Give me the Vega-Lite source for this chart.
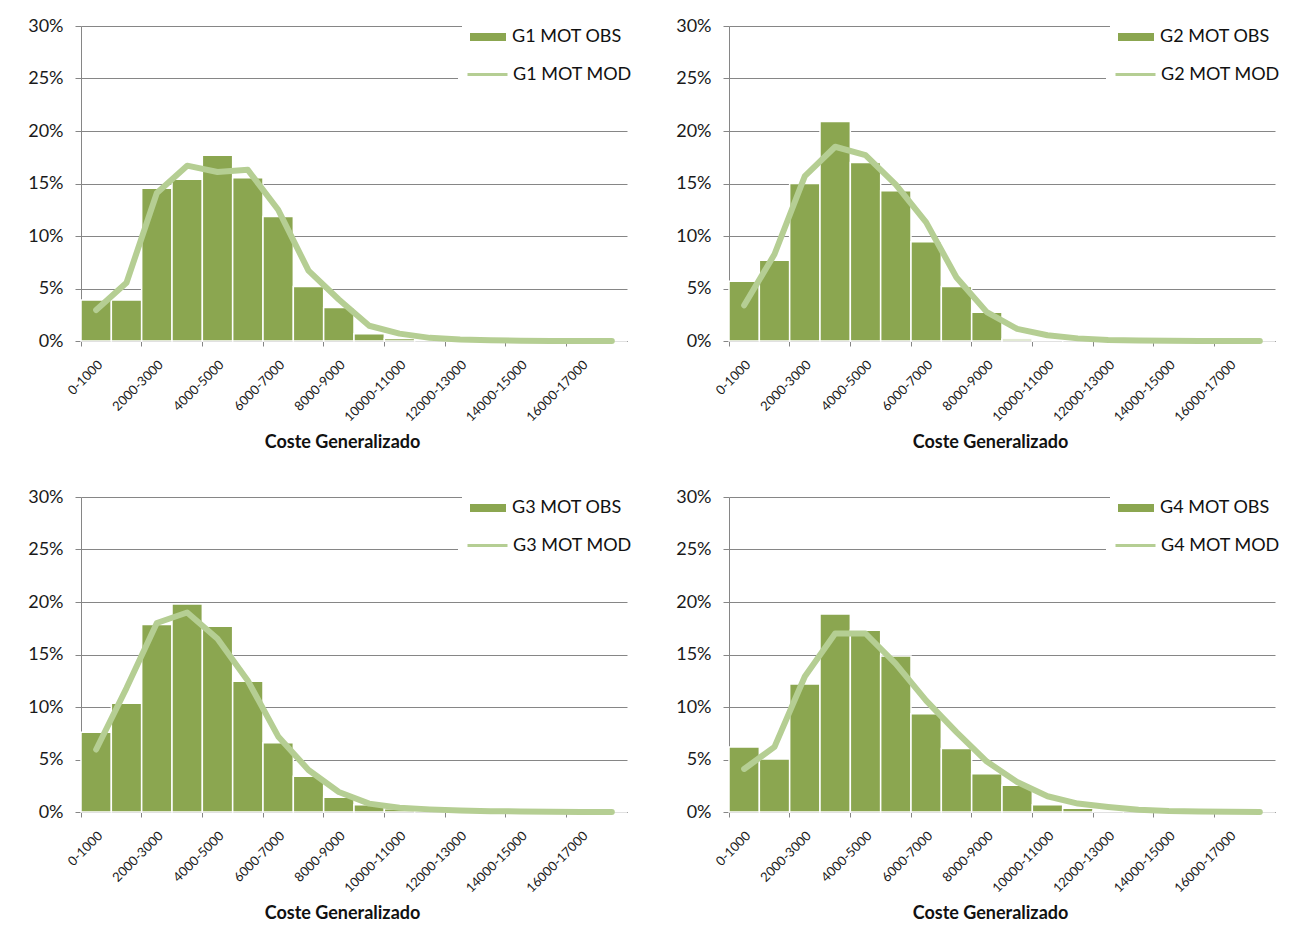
{
  "$schema": "https://vega.github.io/schema/vega-lite/v6.json",
  "padding": {"left": 27, "top": 11, "right": 5, "bottom": 5},
  "bounds": "flush",
  "background": "white",
  "config": {
    "font": "Lato",
    "view": {"stroke": null},
    "axis": {"labelFont": "Lato", "titleFont": "Lato", "labelColor": "#1a1a1a", "titleColor": "#111111"},
    "legend": {"labelFont": "Lato", "labelColor": "#111111"}
  },
  "datasets": {
    "d": [
      {"g":"G1","cat":"0-1000","obs":3.9,"mod":2.95},
      {"g":"G1","cat":"1000-2000","obs":3.9,"mod":5.55},
      {"g":"G1","cat":"2000-3000","obs":14.55,"mod":14.1},
      {"g":"G1","cat":"3000-4000","obs":15.4,"mod":16.7},
      {"g":"G1","cat":"4000-5000","obs":17.7,"mod":16.1},
      {"g":"G1","cat":"5000-6000","obs":15.55,"mod":16.3},
      {"g":"G1","cat":"6000-7000","obs":11.85,"mod":12.5},
      {"g":"G1","cat":"7000-8000","obs":5.2,"mod":6.7},
      {"g":"G1","cat":"8000-9000","obs":3.2,"mod":3.95},
      {"g":"G1","cat":"9000-10000","obs":0.7,"mod":1.45},
      {"g":"G1","cat":"10000-11000","obs":0.25,"mod":0.7},
      {"g":"G1","cat":"11000-12000","obs":0.1,"mod":0.3},
      {"g":"G1","cat":"12000-13000","obs":0,"mod":0.15},
      {"g":"G1","cat":"13000-14000","obs":0,"mod":0.07},
      {"g":"G1","cat":"14000-15000","obs":0,"mod":0.03},
      {"g":"G1","cat":"15000-16000","obs":0,"mod":0.01},
      {"g":"G1","cat":"16000-17000","obs":0,"mod":0},
      {"g":"G1","cat":"17000-18000","obs":0,"mod":0},
      {"g":"G2","cat":"0-1000","obs":5.7,"mod":3.4},
      {"g":"G2","cat":"1000-2000","obs":7.7,"mod":8.26},
      {"g":"G2","cat":"2000-3000","obs":15.0,"mod":15.7},
      {"g":"G2","cat":"3000-4000","obs":20.9,"mod":18.5},
      {"g":"G2","cat":"4000-5000","obs":17.0,"mod":17.7},
      {"g":"G2","cat":"5000-6000","obs":14.3,"mod":14.9},
      {"g":"G2","cat":"6000-7000","obs":9.45,"mod":11.3},
      {"g":"G2","cat":"7000-8000","obs":5.2,"mod":6.05},
      {"g":"G2","cat":"8000-9000","obs":2.75,"mod":2.75},
      {"g":"G2","cat":"9000-10000","obs":0.2,"mod":1.15},
      {"g":"G2","cat":"10000-11000","obs":0.12,"mod":0.55},
      {"g":"G2","cat":"11000-12000","obs":0.05,"mod":0.25},
      {"g":"G2","cat":"12000-13000","obs":0,"mod":0.1},
      {"g":"G2","cat":"13000-14000","obs":0,"mod":0.05},
      {"g":"G2","cat":"14000-15000","obs":0,"mod":0.02},
      {"g":"G2","cat":"15000-16000","obs":0,"mod":0},
      {"g":"G2","cat":"16000-17000","obs":0,"mod":0},
      {"g":"G2","cat":"17000-18000","obs":0,"mod":0},
      {"g":"G3","cat":"0-1000","obs":7.6,"mod":5.95},
      {"g":"G3","cat":"1000-2000","obs":10.35,"mod":11.8},
      {"g":"G3","cat":"2000-3000","obs":17.85,"mod":18.0},
      {"g":"G3","cat":"3000-4000","obs":19.8,"mod":19.0},
      {"g":"G3","cat":"4000-5000","obs":17.7,"mod":16.5},
      {"g":"G3","cat":"5000-6000","obs":12.45,"mod":12.5},
      {"g":"G3","cat":"6000-7000","obs":6.6,"mod":7.2},
      {"g":"G3","cat":"7000-8000","obs":3.4,"mod":4.0},
      {"g":"G3","cat":"8000-9000","obs":1.4,"mod":1.9},
      {"g":"G3","cat":"9000-10000","obs":0.7,"mod":0.8},
      {"g":"G3","cat":"10000-11000","obs":0.3,"mod":0.4},
      {"g":"G3","cat":"11000-12000","obs":0.1,"mod":0.25},
      {"g":"G3","cat":"12000-13000","obs":0.05,"mod":0.15},
      {"g":"G3","cat":"13000-14000","obs":0,"mod":0.08},
      {"g":"G3","cat":"14000-15000","obs":0,"mod":0.05},
      {"g":"G3","cat":"15000-16000","obs":0,"mod":0.02},
      {"g":"G3","cat":"16000-17000","obs":0,"mod":0.01},
      {"g":"G3","cat":"17000-18000","obs":0,"mod":0},
      {"g":"G4","cat":"0-1000","obs":6.2,"mod":4.1},
      {"g":"G4","cat":"1000-2000","obs":5.05,"mod":6.2},
      {"g":"G4","cat":"2000-3000","obs":12.2,"mod":12.9},
      {"g":"G4","cat":"3000-4000","obs":18.85,"mod":17.0},
      {"g":"G4","cat":"4000-5000","obs":17.3,"mod":17.0},
      {"g":"G4","cat":"5000-6000","obs":14.85,"mod":14.1},
      {"g":"G4","cat":"6000-7000","obs":9.35,"mod":10.6},
      {"g":"G4","cat":"7000-8000","obs":6.05,"mod":7.6},
      {"g":"G4","cat":"8000-9000","obs":3.65,"mod":4.8},
      {"g":"G4","cat":"9000-10000","obs":2.55,"mod":2.85},
      {"g":"G4","cat":"10000-11000","obs":0.7,"mod":1.5},
      {"g":"G4","cat":"11000-12000","obs":0.35,"mod":0.8},
      {"g":"G4","cat":"12000-13000","obs":0.1,"mod":0.48},
      {"g":"G4","cat":"13000-14000","obs":0.05,"mod":0.22},
      {"g":"G4","cat":"14000-15000","obs":0,"mod":0.1},
      {"g":"G4","cat":"15000-16000","obs":0,"mod":0.05},
      {"g":"G4","cat":"16000-17000","obs":0,"mod":0.02},
      {"g":"G4","cat":"17000-18000","obs":0,"mod":0}
    ]
  },
  "data": {"name": "d"},
  "columns": 2,
  "spacing": {"row": 156, "column": 102},
  "resolve": {"scale": {"fill": "independent", "stroke": "independent", "x": "independent", "y": "independent"}, "legend": {"fill": "independent", "stroke": "independent"}},
  "concat": [
    {
      "width": 546, "height": 315,
      "transform": [{"filter": "datum.g === 'G1'"}],
      "layer": [
        {"mark": {"type": "bar", "stroke": "white", "strokeWidth": 1.5},
         "encoding": {
           "x": {"field": "cat", "type": "nominal", "title": "Coste Generalizado",
             "scale": {"domain": ["0-1000","1000-2000","2000-3000","3000-4000","4000-5000","5000-6000","6000-7000","7000-8000","8000-9000","9000-10000","10000-11000","11000-12000","12000-13000","13000-14000","14000-15000","15000-16000","16000-17000","17000-18000"], "paddingInner": 0, "paddingOuter": 0},
             "axis": {"orient": "bottom", "values": ["0-1000","2000-3000","4000-5000","6000-7000","8000-9000","10000-11000","12000-13000","14000-15000","16000-17000"], "labelAngle": -45, "ticks": false, "domainColor": "#868686", "labelFontSize": 13, "labelPadding": 17, "titleFontSize": 18, "titleFontWeight": "bold", "titlePadding": 10, "titleX": 261, "grid": false}},
           "y": {"field": "obs", "type": "quantitative", "title": null, "scale": {"domain": [0, 30], "nice": false},
             "axis": {"values": [0,5,10,15,20,25,30], "labelExpr": "datum.value + '%'", "gridColor": "#868686", "domainColor": "#868686", "tickColor": "#868686", "tickSize": 6, "labelPadding": 12, "labelFontSize": 18}},
           "fill": {"datum": "G1  MOT OBS", "type": "nominal", "scale": {"range": ["#8BA650"]},
             "legend": {"orient": "none", "legendX": 381, "legendY": -15, "title": null, "symbolType": "M-1,-0.22H1V0.22H-1Z", "symbolSize": 1296, "symbolStrokeWidth": 0, "labelFontSize": 18, "labelOffset": 6, "padding": 8, "fillColor": "white"}}
         }},
        {"mark": {"type": "line", "strokeWidth": 6, "strokeCap": "round", "strokeJoin": "round"},
         "encoding": {
           "x": {"field": "cat", "type": "nominal", "title": null,
             "axis": {"orient": "bottom", "values": ["0-1000","2000-3000","4000-5000","6000-7000","8000-9000","10000-11000","12000-13000","14000-15000","16000-17000"], "bandPosition": 0, "labels": false, "domain": false, "ticks": true, "tickSize": 5, "tickColor": "#868686", "grid": false}},
           "y": {"field": "mod", "type": "quantitative", "title": null, "scale": {"domain": [0, 30], "nice": false}},
           "stroke": {"datum": "G1  MOT MOD", "type": "nominal", "scale": {"range": ["#B5CE93"]},
             "legend": {"orient": "none", "legendX": 377, "legendY": 19, "title": null, "symbolType": "stroke", "symbolSize": 1600, "symbolStrokeWidth": 3, "labelFontSize": 18, "labelOffset": 4, "padding": 8, "fillColor": "white"}}
         }}
      ],
      "resolve": {"axis": {"x": "independent"}}
    },
    {
      "width": 546, "height": 315,
      "transform": [{"filter": "datum.g === 'G2'"}],
      "layer": [
        {"mark": {"type": "bar", "stroke": "white", "strokeWidth": 1.5},
         "encoding": {
           "x": {"field": "cat", "type": "nominal", "title": "Coste Generalizado",
             "scale": {"domain": ["0-1000","1000-2000","2000-3000","3000-4000","4000-5000","5000-6000","6000-7000","7000-8000","8000-9000","9000-10000","10000-11000","11000-12000","12000-13000","13000-14000","14000-15000","15000-16000","16000-17000","17000-18000"], "paddingInner": 0, "paddingOuter": 0},
             "axis": {"orient": "bottom", "values": ["0-1000","2000-3000","4000-5000","6000-7000","8000-9000","10000-11000","12000-13000","14000-15000","16000-17000"], "labelAngle": -45, "ticks": false, "domainColor": "#868686", "labelFontSize": 13, "labelPadding": 17, "titleFontSize": 18, "titleFontWeight": "bold", "titlePadding": 10, "titleX": 261, "grid": false}},
           "y": {"field": "obs", "type": "quantitative", "title": null, "scale": {"domain": [0, 30], "nice": false},
             "axis": {"values": [0,5,10,15,20,25,30], "labelExpr": "datum.value + '%'", "gridColor": "#868686", "domainColor": "#868686", "tickColor": "#868686", "tickSize": 6, "labelPadding": 12, "labelFontSize": 18}},
           "fill": {"datum": "G2  MOT OBS", "type": "nominal", "scale": {"range": ["#8BA650"]},
             "legend": {"orient": "none", "legendX": 381, "legendY": -15, "title": null, "symbolType": "M-1,-0.22H1V0.22H-1Z", "symbolSize": 1296, "symbolStrokeWidth": 0, "labelFontSize": 18, "labelOffset": 6, "padding": 8, "fillColor": "white"}}
         }},
        {"mark": {"type": "line", "strokeWidth": 6, "strokeCap": "round", "strokeJoin": "round"},
         "encoding": {
           "x": {"field": "cat", "type": "nominal", "title": null,
             "axis": {"orient": "bottom", "values": ["0-1000","2000-3000","4000-5000","6000-7000","8000-9000","10000-11000","12000-13000","14000-15000","16000-17000"], "bandPosition": 0, "labels": false, "domain": false, "ticks": true, "tickSize": 5, "tickColor": "#868686", "grid": false}},
           "y": {"field": "mod", "type": "quantitative", "title": null, "scale": {"domain": [0, 30], "nice": false}},
           "stroke": {"datum": "G2  MOT MOD", "type": "nominal", "scale": {"range": ["#B5CE93"]},
             "legend": {"orient": "none", "legendX": 377, "legendY": 19, "title": null, "symbolType": "stroke", "symbolSize": 1600, "symbolStrokeWidth": 3, "labelFontSize": 18, "labelOffset": 4, "padding": 8, "fillColor": "white"}}
         }}
      ],
      "resolve": {"axis": {"x": "independent"}}
    },
    {
      "width": 546, "height": 315,
      "transform": [{"filter": "datum.g === 'G3'"}],
      "layer": [
        {"mark": {"type": "bar", "stroke": "white", "strokeWidth": 1.5},
         "encoding": {
           "x": {"field": "cat", "type": "nominal", "title": "Coste Generalizado",
             "scale": {"domain": ["0-1000","1000-2000","2000-3000","3000-4000","4000-5000","5000-6000","6000-7000","7000-8000","8000-9000","9000-10000","10000-11000","11000-12000","12000-13000","13000-14000","14000-15000","15000-16000","16000-17000","17000-18000"], "paddingInner": 0, "paddingOuter": 0},
             "axis": {"orient": "bottom", "values": ["0-1000","2000-3000","4000-5000","6000-7000","8000-9000","10000-11000","12000-13000","14000-15000","16000-17000"], "labelAngle": -45, "ticks": false, "domainColor": "#868686", "labelFontSize": 13, "labelPadding": 17, "titleFontSize": 18, "titleFontWeight": "bold", "titlePadding": 10, "titleX": 261, "grid": false}},
           "y": {"field": "obs", "type": "quantitative", "title": null, "scale": {"domain": [0, 30], "nice": false},
             "axis": {"values": [0,5,10,15,20,25,30], "labelExpr": "datum.value + '%'", "gridColor": "#868686", "domainColor": "#868686", "tickColor": "#868686", "tickSize": 6, "labelPadding": 12, "labelFontSize": 18}},
           "fill": {"datum": "G3  MOT OBS", "type": "nominal", "scale": {"range": ["#8BA650"]},
             "legend": {"orient": "none", "legendX": 381, "legendY": -15, "title": null, "symbolType": "M-1,-0.22H1V0.22H-1Z", "symbolSize": 1296, "symbolStrokeWidth": 0, "labelFontSize": 18, "labelOffset": 6, "padding": 8, "fillColor": "white"}}
         }},
        {"mark": {"type": "line", "strokeWidth": 6, "strokeCap": "round", "strokeJoin": "round"},
         "encoding": {
           "x": {"field": "cat", "type": "nominal", "title": null,
             "axis": {"orient": "bottom", "values": ["0-1000","2000-3000","4000-5000","6000-7000","8000-9000","10000-11000","12000-13000","14000-15000","16000-17000"], "bandPosition": 0, "labels": false, "domain": false, "ticks": true, "tickSize": 5, "tickColor": "#868686", "grid": false}},
           "y": {"field": "mod", "type": "quantitative", "title": null, "scale": {"domain": [0, 30], "nice": false}},
           "stroke": {"datum": "G3  MOT MOD", "type": "nominal", "scale": {"range": ["#B5CE93"]},
             "legend": {"orient": "none", "legendX": 377, "legendY": 19, "title": null, "symbolType": "stroke", "symbolSize": 1600, "symbolStrokeWidth": 3, "labelFontSize": 18, "labelOffset": 4, "padding": 8, "fillColor": "white"}}
         }}
      ],
      "resolve": {"axis": {"x": "independent"}}
    },
    {
      "width": 546, "height": 315,
      "transform": [{"filter": "datum.g === 'G4'"}],
      "layer": [
        {"mark": {"type": "bar", "stroke": "white", "strokeWidth": 1.5},
         "encoding": {
           "x": {"field": "cat", "type": "nominal", "title": "Coste Generalizado",
             "scale": {"domain": ["0-1000","1000-2000","2000-3000","3000-4000","4000-5000","5000-6000","6000-7000","7000-8000","8000-9000","9000-10000","10000-11000","11000-12000","12000-13000","13000-14000","14000-15000","15000-16000","16000-17000","17000-18000"], "paddingInner": 0, "paddingOuter": 0},
             "axis": {"orient": "bottom", "values": ["0-1000","2000-3000","4000-5000","6000-7000","8000-9000","10000-11000","12000-13000","14000-15000","16000-17000"], "labelAngle": -45, "ticks": false, "domainColor": "#868686", "labelFontSize": 13, "labelPadding": 17, "titleFontSize": 18, "titleFontWeight": "bold", "titlePadding": 10, "titleX": 261, "grid": false}},
           "y": {"field": "obs", "type": "quantitative", "title": null, "scale": {"domain": [0, 30], "nice": false},
             "axis": {"values": [0,5,10,15,20,25,30], "labelExpr": "datum.value + '%'", "gridColor": "#868686", "domainColor": "#868686", "tickColor": "#868686", "tickSize": 6, "labelPadding": 12, "labelFontSize": 18}},
           "fill": {"datum": "G4  MOT OBS", "type": "nominal", "scale": {"range": ["#8BA650"]},
             "legend": {"orient": "none", "legendX": 381, "legendY": -15, "title": null, "symbolType": "M-1,-0.22H1V0.22H-1Z", "symbolSize": 1296, "symbolStrokeWidth": 0, "labelFontSize": 18, "labelOffset": 6, "padding": 8, "fillColor": "white"}}
         }},
        {"mark": {"type": "line", "strokeWidth": 6, "strokeCap": "round", "strokeJoin": "round"},
         "encoding": {
           "x": {"field": "cat", "type": "nominal", "title": null,
             "axis": {"orient": "bottom", "values": ["0-1000","2000-3000","4000-5000","6000-7000","8000-9000","10000-11000","12000-13000","14000-15000","16000-17000"], "bandPosition": 0, "labels": false, "domain": false, "ticks": true, "tickSize": 5, "tickColor": "#868686", "grid": false}},
           "y": {"field": "mod", "type": "quantitative", "title": null, "scale": {"domain": [0, 30], "nice": false}},
           "stroke": {"datum": "G4  MOT MOD", "type": "nominal", "scale": {"range": ["#B5CE93"]},
             "legend": {"orient": "none", "legendX": 377, "legendY": 19, "title": null, "symbolType": "stroke", "symbolSize": 1600, "symbolStrokeWidth": 3, "labelFontSize": 18, "labelOffset": 4, "padding": 8, "fillColor": "white"}}
         }}
      ],
      "resolve": {"axis": {"x": "independent"}}
    }
  ]
}
